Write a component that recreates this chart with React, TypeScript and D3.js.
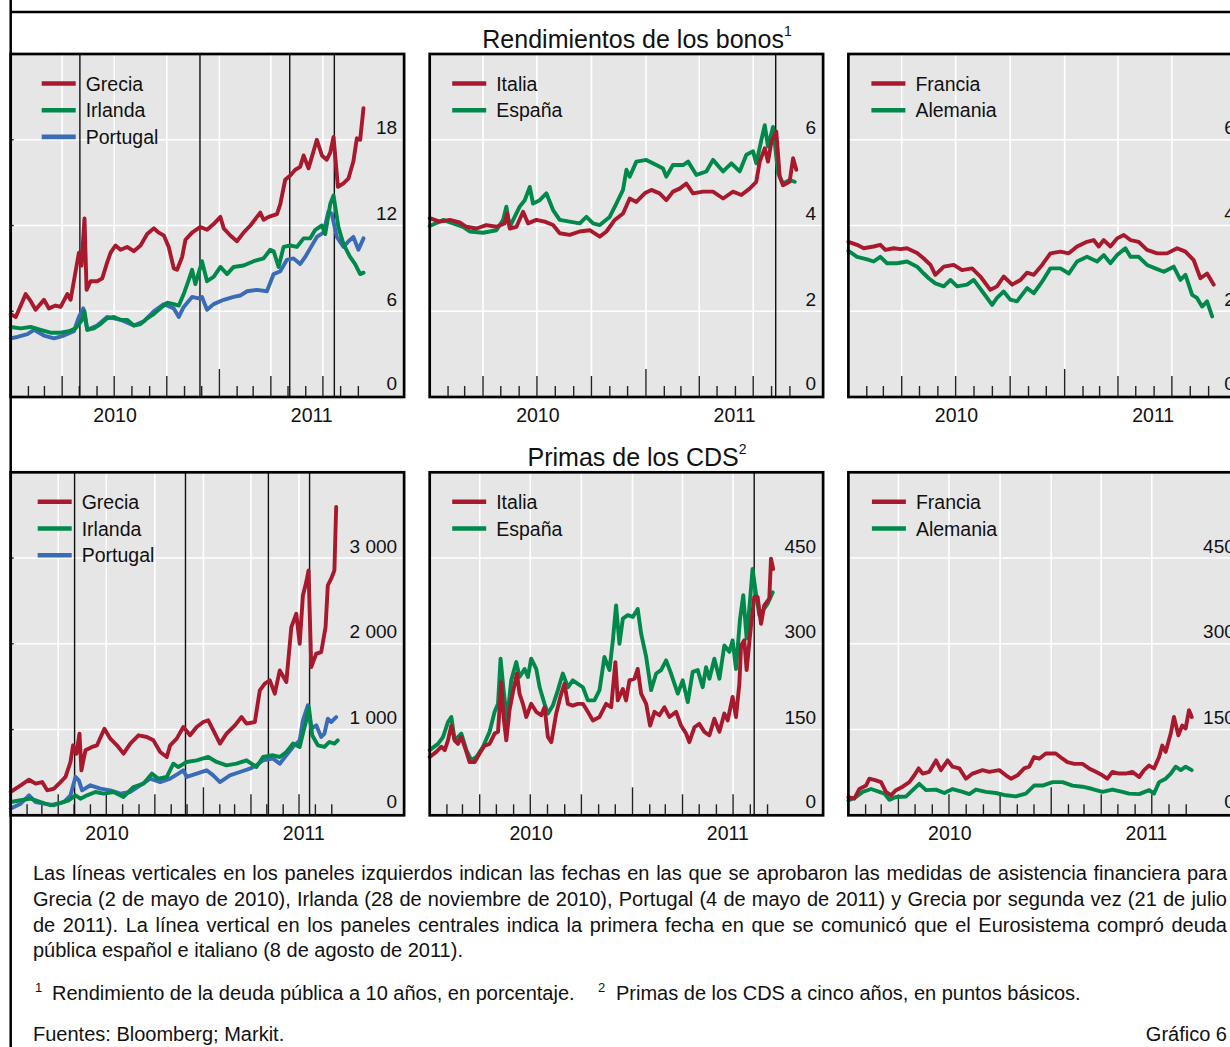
import React, { useEffect, useRef } from "react";
import * as d3 from "d3";

// every point is [months since 1 Jan 2010, value]
type Pt = [number, number];

// --- 10-year government bond yields, % ---
const grecia10y: Pt[] = [[0,5.8],[0.29,5.6],[0.86,7.2],[1.15,6.7],[1.43,6.1],[1.91,6.8],[2.2,6.2],[2.58,6.4],[2.87,6.3],[3.25,7.2],[3.44,6.8],[3.73,8.8],[3.92,10.1],[4.07,9.2],[4.24,12.5],[4.36,7.5],[4.59,8.1],[4.97,8.1],[5.26,8.3],[5.54,9.4],[5.74,10.1],[6.02,10.6],[6.31,10.3],[6.69,10.5],[7.07,10.2],[7.46,10.6],[7.84,11.4],[8.22,11.8],[8.51,11.5],[8.8,11.3],[9.08,10.5],[9.37,9.0],[9.56,8.9],[9.85,9.8],[10.04,11.0],[10.42,11.5],[10.9,11.9],[11.28,11.7],[11.66,12.1],[12.05,12.6],[12.24,11.8],[12.62,11.3],[13.0,10.9],[13.38,11.5],[13.77,12.0],[14.15,12.6],[14.34,12.9],[14.53,12.4],[14.82,12.6],[15.3,12.8],[15.49,13.5],[15.77,15.2],[16.06,15.5],[16.35,15.9],[16.63,16.1],[16.83,16.9],[17.11,16.0],[17.4,17.2],[17.59,18.0],[17.88,16.9],[18.16,16.6],[18.36,17.1],[18.55,18.2],[18.8,14.7],[19.12,14.95],[19.41,15.3],[19.69,16.5],[19.89,18.1],[20.08,18.0],[20.27,20.2]];
const irlanda10y: Pt[] = [[0,4.9],[0.57,4.8],[1.15,4.9],[1.72,4.7],[2.29,4.5],[2.87,4.5],[3.35,4.6],[3.73,4.8],[3.92,5.1],[4.11,5.4],[4.24,6.0],[4.4,4.7],[4.78,4.8],[5.16,5.1],[5.54,5.5],[5.93,5.6],[6.31,5.4],[6.69,5.4],[7.07,5.0],[7.46,5.1],[7.84,5.5],[8.22,5.8],[8.6,6.2],[8.99,6.6],[9.37,6.5],[9.66,6.4],[9.94,7.2],[10.23,8.2],[10.42,8.9],[10.61,7.9],[10.9,9.1],[10.99,9.5],[11.28,8.1],[11.66,8.4],[12.05,9.1],[12.43,8.6],[12.81,9.1],[13.38,9.2],[13.96,9.5],[14.53,9.7],[14.91,10.3],[15.11,10.2],[15.39,9.1],[15.68,10.5],[16.06,10.6],[16.44,10.5],[16.83,11.1],[17.21,11.1],[17.5,11.7],[17.88,12.0],[18.07,11.4],[18.36,13.5],[18.55,14.1],[18.83,11.9],[19.12,10.7],[19.5,9.8],[19.79,9.3],[20.08,8.6],[20.27,8.7]];
const portugal10y: Pt[] = [[0,4.1],[0.38,4.2],[0.96,4.4],[1.34,4.7],[1.91,4.3],[2.49,4.1],[3.06,4.3],[3.63,4.6],[3.92,5.6],[4.17,6.2],[4.4,4.7],[4.97,5.0],[5.54,5.6],[6.31,5.4],[7.07,5.0],[7.65,5.3],[8.22,6.0],[8.8,6.5],[9.37,6.2],[9.66,5.6],[9.94,6.3],[10.42,7.0],[10.8,6.9],[10.99,7.0],[11.28,6.1],[11.66,6.5],[12.24,6.8],[12.81,7.0],[13.19,7.1],[13.58,7.4],[14.15,7.5],[14.72,7.4],[15.11,8.6],[15.49,8.8],[15.87,9.6],[16.25,9.7],[16.63,9.3],[16.92,9.8],[17.21,10.4],[17.59,11.2],[17.97,11.5],[18.26,13.0],[18.45,12.8],[18.74,11.2],[19.12,10.5],[19.41,10.9],[19.69,11.2],[19.98,10.3],[20.27,11.1]];
const italia10y: Pt[] = [[0,4.17],[0.55,4.09],[1.11,4.13],[1.66,4.07],[2.03,3.97],[2.59,3.93],[3.14,4.01],[3.7,3.97],[4.16,4.05],[4.29,4.28],[4.44,3.93],[4.81,3.97],[5.18,4.32],[5.45,4.05],[5.91,4.13],[6.38,4.09],[6.84,4.01],[7.21,3.82],[7.76,3.78],[8.32,3.86],[8.87,3.89],[9.43,3.74],[9.8,3.86],[10.26,4.13],[10.72,4.28],[11.09,4.63],[11.46,4.55],[11.92,4.75],[12.29,4.83],[12.75,4.75],[13.12,4.59],[13.49,4.79],[13.86,4.86],[14.23,4.98],[14.6,4.75],[15.16,4.79],[15.71,4.79],[16.27,4.63],[16.82,4.79],[17.28,4.71],[17.74,4.86],[18.11,5.02],[18.3,5.49],[18.58,5.8],[18.76,5.49],[18.95,5.95],[19.22,6.19],[19.41,5.14],[19.59,4.94],[19.96,5.02],[20.15,5.57],[20.33,5.3]];
const espana10y: Pt[] = [[0,3.99],[0.74,4.13],[1.29,4.05],[1.85,3.97],[2.22,3.86],[2.96,3.83],[3.7,3.89],[4.07,4.13],[4.25,4.44],[4.44,3.97],[4.99,4.44],[5.27,4.59],[5.55,4.9],[5.73,4.51],[6.1,4.59],[6.47,4.75],[6.84,4.36],[7.21,4.13],[7.76,4.09],[8.32,4.05],[8.69,4.2],[9.06,4.05],[9.43,4.01],[9.98,4.2],[10.35,4.51],[10.72,4.83],[10.91,5.3],[11.09,5.14],[11.46,5.49],[12.01,5.53],[12.57,5.41],[12.94,5.33],[13.12,5.14],[13.49,5.41],[14.05,5.41],[14.33,5.49],[14.79,5.18],[15.34,5.26],[15.71,5.53],[16.27,5.26],[16.73,5.45],[17.19,5.26],[17.56,5.65],[17.93,5.73],[18.11,5.45],[18.39,5.99],[18.58,6.34],[18.76,5.84],[19.04,6.3],[19.32,5.22],[19.59,4.98],[19.96,5.06],[20.24,5.02]];
const francia10y: Pt[] = [[0,3.62],[0.48,3.55],[0.85,3.47],[1.4,3.51],[1.77,3.55],[2.05,3.43],[2.51,3.47],[2.88,3.45],[3.25,3.47],[3.81,3.36],[4.18,3.23],[4.55,3.08],[4.82,2.85],[5.29,3.04],[5.84,3.08],[6.3,2.96],[6.86,3.0],[7.32,2.81],[7.87,2.5],[8.24,2.58],[8.61,2.81],[9.08,2.62],[9.54,2.73],[9.91,2.9],[10.28,2.85],[10.74,3.08],[11.2,3.35],[11.76,3.39],[12.22,3.35],[12.68,3.51],[13.23,3.62],[13.6,3.66],[13.88,3.51],[14.16,3.66],[14.53,3.51],[14.9,3.7],[15.27,3.78],[15.64,3.66],[16.1,3.62],[16.56,3.43],[17.12,3.35],[17.67,3.35],[18.23,3.47],[18.69,3.39],[19.15,3.19],[19.52,2.77],[19.89,2.88],[20.26,2.62]];
const alemania10y: Pt[] = [[0,3.41],[0.48,3.27],[1.04,3.21],[1.4,3.16],[1.77,3.27],[2.14,3.12],[2.7,3.12],[3.25,3.16],[3.81,3.04],[4.18,2.88],[4.45,2.77],[4.82,2.65],[5.29,2.58],[5.66,2.73],[6.03,2.58],[6.58,2.62],[6.95,2.73],[7.5,2.42],[7.97,2.15],[8.24,2.31],[8.61,2.46],[8.98,2.27],[9.35,2.23],[9.91,2.54],[10.28,2.42],[10.74,2.69],[11.2,3.0],[11.76,3.0],[12.22,2.88],[12.68,3.16],[13.23,3.27],[13.79,3.16],[14.16,3.31],[14.53,3.12],[14.9,3.31],[15.36,3.47],[15.64,3.27],[16.1,3.27],[16.56,3.08],[17.02,3.0],[17.49,2.92],[18.04,3.04],[18.41,2.73],[18.69,2.85],[19.06,2.38],[19.33,2.31],[19.61,2.11],[19.89,2.23],[20.17,1.88]];

// --- 5-year CDS premia, basis points ---
const greciaCds: Pt[] = [[0,272],[0.62,350],[1.14,415],[1.55,369],[1.96,388],[2.27,291],[2.69,311],[3.1,388],[3.41,447],[3.72,622],[3.88,816],[4.09,719],[4.28,952],[4.4,525],[4.65,758],[5.06,797],[5.37,816],[5.83,1010],[6.2,894],[6.61,816],[7.02,719],[7.44,836],[7.95,933],[8.47,913],[8.88,874],[9.3,738],[9.71,680],[9.92,816],[10.33,894],[10.74,1030],[11.16,933],[11.57,1030],[11.98,1088],[12.29,1108],[12.71,952],[13.02,836],[13.43,952],[13.95,1049],[14.36,1146],[14.67,1069],[15.19,1088],[15.5,1457],[15.81,1535],[16.12,1574],[16.43,1419],[16.74,1690],[17.15,1554],[17.46,2195],[17.77,2350],[17.98,2000],[18.18,2564],[18.39,2720],[18.53,2856],[18.7,1729],[19.01,1885],[19.32,1904],[19.59,2195],[19.73,2681],[19.94,2759],[20.14,2856],[20.25,3596]];
const irlandaCds: Pt[] = [[0,155],[0.62,175],[1.24,194],[1.86,155],[2.48,117],[3.1,144],[3.62,175],[4.03,233],[4.34,194],[4.75,233],[5.27,272],[5.79,252],[6.4,272],[7.02,214],[7.64,330],[8.26,369],[8.78,486],[9.19,427],[9.71,447],[10.12,602],[10.43,563],[10.95,622],[11.57,641],[12.29,680],[12.81,622],[13.43,583],[14.05,602],[14.67,641],[15.29,563],[15.7,680],[16.32,700],[16.74,680],[17.15,738],[17.56,836],[17.98,797],[18.18,952],[18.39,1108],[18.55,1263],[18.76,933],[19.11,816],[19.52,797],[19.83,855],[20.14,836],[20.35,874]];
const portugalCds: Pt[] = [[0,78],[0.62,136],[1.14,233],[1.55,155],[2.07,136],[2.69,117],[3.31,155],[3.72,233],[4.03,447],[4.24,408],[4.44,291],[4.96,350],[5.58,311],[6.2,291],[6.82,252],[7.44,272],[8.06,350],[8.68,427],[9.3,388],[9.92,427],[10.43,486],[10.74,525],[10.95,447],[11.57,486],[12.19,525],[12.6,466],[13.02,388],[13.64,466],[14.26,505],[14.88,544],[15.29,583],[15.7,641],[16.32,661],[16.74,602],[17.56,797],[17.98,874],[18.18,1108],[18.49,1283],[18.7,1010],[19.01,1049],[19.32,913],[19.52,952],[19.73,1127],[19.94,1088],[20.25,1146]];
const italiaCds: Pt[] = [[0,102],[0.39,111],[0.69,120],[0.89,114],[1.08,131],[1.28,157],[1.48,131],[1.67,125],[1.87,137],[2.17,111],[2.36,93],[2.66,93],[2.95,108],[3.25,122],[3.54,125],[3.84,143],[4.04,146],[4.23,233],[4.37,172],[4.53,131],[4.72,184],[4.92,215],[5.16,248],[5.31,213],[5.51,195],[5.71,172],[6.0,195],[6.3,181],[6.59,175],[6.79,189],[6.99,137],[7.19,128],[7.48,178],[7.78,213],[7.97,230],[8.17,195],[8.46,192],[8.76,195],[9.06,195],[9.35,181],[9.65,166],[10.04,172],[10.43,195],[10.73,189],[10.98,268],[11.12,201],[11.42,221],[11.61,201],[11.81,236],[12.11,239],[12.3,256],[12.5,213],[12.8,195],[13.03,157],[13.29,181],[13.58,175],[13.88,189],[14.17,172],[14.57,181],[14.86,157],[15.16,143],[15.35,128],[15.65,154],[15.94,160],[16.24,146],[16.54,140],[16.83,169],[17.13,146],[17.42,178],[17.62,166],[17.91,207],[18.11,172],[18.31,230],[18.41,297],[18.6,306],[18.74,254],[18.9,303],[19.0,332],[19.19,382],[19.39,382],[19.59,335],[19.78,367],[20.08,379],[20.18,449],[20.31,431]];
const espanaCds: Pt[] = [[0,114],[0.49,125],[0.79,137],[1.08,163],[1.28,172],[1.48,131],[1.87,143],[2.17,114],[2.46,96],[2.76,102],[3.15,120],[3.54,146],[3.84,181],[4.04,195],[4.19,274],[4.37,219],[4.57,166],[4.82,236],[5.12,268],[5.31,242],[5.61,256],[5.81,242],[6.0,274],[6.3,256],[6.5,224],[6.79,195],[6.99,178],[7.28,192],[7.58,219],[7.87,248],[8.17,224],[8.46,236],[8.76,230],[9.06,224],[9.35,201],[9.74,201],[10.04,219],[10.33,277],[10.63,254],[10.83,306],[11.02,367],[11.22,300],[11.42,344],[11.71,350],[12.01,347],[12.3,361],[12.5,318],[12.8,277],[13.09,219],[13.39,248],[13.68,254],[13.98,271],[14.27,248],[14.67,213],[14.96,236],[15.26,198],[15.55,251],[15.85,254],[16.14,224],[16.34,259],[16.54,239],[16.83,274],[17.13,239],[17.42,297],[17.72,286],[17.91,306],[18.11,256],[18.35,344],[18.54,385],[18.74,309],[18.94,376],[19.09,431],[19.29,388],[19.49,350],[19.69,358],[19.98,370],[20.28,390]];
const franciaCds: Pt[] = [[0,32],[0.35,29],[0.65,46],[1.04,52],[1.24,64],[1.63,61],[1.93,58],[2.22,41],[2.52,35],[2.81,44],[3.21,50],[3.6,58],[3.9,70],[4.15,82],[4.39,73],[4.78,76],[5.18,96],[5.47,79],[5.87,96],[6.16,85],[6.56,82],[6.95,64],[7.34,73],[7.93,79],[8.33,76],[8.92,79],[9.31,70],[9.61,64],[10.0,70],[10.39,82],[10.69,85],[10.98,102],[11.28,99],[11.67,108],[12.26,108],[12.66,99],[12.95,93],[13.35,90],[13.84,90],[14.23,82],[14.63,76],[15.02,70],[15.31,64],[15.61,76],[16.0,73],[16.4,73],[16.79,76],[17.19,67],[17.48,79],[17.78,87],[18.07,82],[18.37,102],[18.56,122],[18.76,111],[19.06,143],[19.25,172],[19.51,140],[19.74,157],[19.94,152],[20.14,184],[20.3,172]];
const alemaniaCds: Pt[] = [[0,26],[0.45,32],[0.85,41],[1.34,46],[1.83,41],[2.13,38],[2.42,27],[2.81,32],[3.41,33],[3.8,44],[4.19,55],[4.59,44],[5.18,45],[5.67,39],[6.16,46],[6.75,41],[7.15,37],[7.54,45],[8.13,41],[8.72,39],[9.31,35],[9.9,33],[10.49,38],[10.98,52],[11.48,52],[12.07,58],[12.66,58],[13.25,52],[13.84,50],[14.43,46],[15.02,41],[15.61,45],[16.2,41],[16.59,38],[17.19,37],[17.78,44],[18.07,38],[18.37,58],[18.76,64],[19.06,73],[19.35,85],[19.65,79],[19.94,85],[20.3,79]];

// vertical event lines
const eventosIzq = ["2010-05-02", "2010-11-28", "2011-05-04", "2011-07-21"];
const eventosCentro = ["2011-08-08"];

const ticksBonos = [0, 6, 12, 18];
const ticksBonos2 = [0, 2, 4, 6];
const ticksCdsIzq = [0, 1000, 2000, 3000];
const ticksCds2 = [0, 150, 300, 450];

const titulos = ["Rendimientos de los bonos", "Primas de los CDS"];

const notaLineas = [
  "Las líneas verticales en los paneles izquierdos indican las fechas en las que se aprobaron las medidas de asistencia financiera para",
  "Grecia (2 de mayo de 2010), Irlanda (28 de noviembre de 2010), Portugal (4 de mayo de 2011) y Grecia por segunda vez (21 de julio",
  "de 2011). La línea vertical en los paneles centrales indica la primera fecha en que se comunicó que el Eurosistema compró deuda",
  "pública español e italiano (8 de agosto de 2011).",
];
const nota1 = "Rendimiento de la deuda pública a 10 años, en porcentaje.";
const nota2 = "Primas de los CDS a cinco años, en puntos básicos.";
const fuentes = "Fuentes: Bloomberg; Markit.";
const grafico = "Gráfico 6";

const RED = "#a8192e";
const GREEN = "#00894b";
const BLUE = "#3a6bb5";
const FONT = "'Liberation Sans', Arial, Helvetica, sans-serif";

const T0 = new Date(2010, 0, 1);
const toDate = (m: number) => new Date(T0.getTime() + m * 30.4375 * 864e5);
const parse = d3.timeParse("%Y-%m-%d");
const fmtMiles = (v: number) => d3.format(",")(v).replace(/,/g, " ");

const COL_X = [10.7, 429.7, 848.4];
const ROW_Y = [54, 472.3];
const PW = 393.4;
const PH = 343;

type Serie = { name: string; data: Pt[]; color: string };
type Panel = {
  row: number; col: number; yMax: number; yTicks: number[];
  end: string; events: string[]; legendDx: number; series: Serie[];
  fmt: (v: number) => string;
};

const panels: Panel[] = [
  { row: 0, col: 0, yMax: 24, yTicks: ticksBonos, end: "2011-11-20", events: eventosIzq, legendDx: 31, fmt: String,
    series: [{ name: "Grecia", data: grecia10y, color: RED }, { name: "Irlanda", data: irlanda10y, color: GREEN }, { name: "Portugal", data: portugal10y, color: BLUE }] },
  { row: 0, col: 1, yMax: 8, yTicks: ticksBonos2, end: "2011-10-27", events: eventosCentro, legendDx: 22.5, fmt: String,
    series: [{ name: "Italia", data: italia10y, color: RED }, { name: "España", data: espana10y, color: GREEN }] },
  { row: 0, col: 2, yMax: 8, yTicks: ticksBonos2, end: "2011-10-27", events: [], legendDx: 23, fmt: String,
    series: [{ name: "Francia", data: francia10y, color: RED }, { name: "Alemania", data: alemania10y, color: GREEN }] },
  { row: 1, col: 0, yMax: 4000, yTicks: ticksCdsIzq, end: "2012-01-16", events: eventosIzq, legendDx: 27, fmt: fmtMiles,
    series: [{ name: "Grecia", data: greciaCds, color: RED }, { name: "Irlanda", data: irlandaCds, color: GREEN }, { name: "Portugal", data: portugalCds, color: BLUE }] },
  { row: 1, col: 1, yMax: 600, yTicks: ticksCds2, end: "2011-12-10", events: eventosCentro, legendDx: 22.5, fmt: String,
    series: [{ name: "Italia", data: italiaCds, color: RED }, { name: "España", data: espanaCds, color: GREEN }] },
  { row: 1, col: 2, yMax: 600, yTicks: ticksCds2, end: "2011-12-10", events: [], legendDx: 23.5, fmt: String,
    series: [{ name: "Francia", data: franciaCds, color: RED }, { name: "Alemania", data: alemaniaCds, color: GREEN }] },
];

function drawPanel(svg: d3.Selection<SVGSVGElement, unknown, null, undefined>, p: Panel) {
  const x0 = COL_X[p.col];
  const y0 = ROW_Y[p.row];
  const x = d3.scaleTime().domain([T0, parse(p.end) as Date]).range([x0, x0 + PW]);
  const y = d3.scaleLinear().domain([0, p.yMax]).range([y0 + PH, y0]);
  const g = svg.append("g");

  g.append("rect").attr("x", x0).attr("y", y0).attr("width", PW).attr("height", PH).attr("fill", "#e6e6e6");

  // monthly ticks Feb 2010 .. Sep 2011, quarters longer, new year longest
  const months = d3.timeMonth.range(new Date(2010, 1, 1), new Date(2011, 8, 2));
  const quarters = months.filter(d => d.getMonth() % 3 === 0);

  g.append("g").selectAll("line").data(quarters).join("line")
    .attr("x1", d => x(d)).attr("x2", d => x(d))
    .attr("y1", y0).attr("y2", y0 + PH)
    .attr("stroke", "#fff").attr("stroke-width", 1.6);
  g.append("g").selectAll("line").data(p.yTicks.filter(v => v > 0)).join("line")
    .attr("x1", x0).attr("x2", x0 + PW)
    .attr("y1", d => y(d)).attr("y2", d => y(d))
    .attr("stroke", "#fff").attr("stroke-width", 1.6);

  g.append("g").selectAll("line").data(months).join("line")
    .attr("x1", d => x(d)).attr("x2", d => x(d))
    .attr("y1", y0 + PH)
    .attr("y2", d => y0 + PH - (d.getMonth() === 0 ? 28 : d.getMonth() % 3 === 0 ? 21 : 11))
    .attr("stroke", "#222").attr("stroke-width", 1.4);

  if (p.col === 0) {
    g.append("g").selectAll("line").data(p.yTicks.filter(v => v > 0)).join("line")
      .attr("x1", x0).attr("x2", x0 + 3)
      .attr("y1", d => y(d)).attr("y2", d => y(d))
      .attr("stroke", "#222").attr("stroke-width", 1.4);
  }

  g.append("g").selectAll("line").data(p.events.map(s => parse(s) as Date)).join("line")
    .attr("x1", d => x(d)).attr("x2", d => x(d))
    .attr("y1", y0).attr("y2", y0 + PH)
    .attr("stroke", "#111").attr("stroke-width", 1.4);

  const line = d3.line<Pt>().x(d => x(toDate(d[0]))).y(d => y(d[1]));
  g.append("g").selectAll("path").data(p.series.slice().reverse()).join("path")
    .attr("d", d => line(d.data))
    .attr("fill", "none")
    .attr("stroke", d => d.color)
    .attr("stroke-width", 3.9)
    .attr("stroke-linejoin", "round")
    .attr("stroke-linecap", "round");

  g.append("rect").attr("x", x0).attr("y", y0).attr("width", PW).attr("height", PH)
    .attr("fill", "none").attr("stroke", "#000").attr("stroke-width", 2.7);

  // y labels, inside on the right
  g.append("g").selectAll("text").data(p.yTicks).join("text")
    .attr("x", x0 + PW - 7)
    .attr("y", d => y(d) - (d === 0 ? 7 : 5.5))
    .attr("text-anchor", "end")
    .attr("font-size", 19)
    .attr("fill", "#111")
    .text(d => p.fmt(d));

  // legend
  const lg = g.append("g").attr("transform", `translate(${x0 + p.legendDx},${y0 + 29.5})`);
  p.series.forEach((s, i) => {
    lg.append("line").attr("x1", 0).attr("x2", 34).attr("y1", i * 26.7).attr("y2", i * 26.7)
      .attr("stroke", s.color).attr("stroke-width", 4.6);
    lg.append("text").attr("x", 44).attr("y", i * 26.7 + 7.2)
      .attr("font-size", 19.5).attr("fill", "#111").text(s.name);
  });

  // year labels
  const jan11 = new Date(2011, 0, 1);
  const yl = y0 + PH + 25;
  g.append("text").attr("x", (x(T0) + x(jan11)) / 2).attr("y", yl)
    .attr("text-anchor", "middle").attr("font-size", 19.5).attr("fill", "#111").text("2010");
  g.append("text").attr("x", (x(jan11) + x0 + PW) / 2).attr("y", yl)
    .attr("text-anchor", "middle").attr("font-size", 19.5).attr("fill", "#111").text("2011");
}

export default function App() {
  const ref = useRef<SVGSVGElement>(null);

  useEffect(() => {
    const svg = d3.select(ref.current as SVGSVGElement);
    svg.selectAll("*").remove();
    svg.attr("font-family", FONT);

    svg.append("rect").attr("width", 1230).attr("height", 1047).attr("fill", "#fff");

    // outer frame
    svg.append("line").attr("x1", 10.7).attr("x2", 10.7).attr("y1", 0).attr("y2", 1047)
      .attr("stroke", "#000").attr("stroke-width", 2.5);
    svg.append("line").attr("x1", 10.7).attr("x2", 1230).attr("y1", 12).attr("y2", 12)
      .attr("stroke", "#000").attr("stroke-width", 2.5);

    panels.forEach(p => drawPanel(svg, p));

    // titles with superscripts
    titulos.forEach((t, i) => {
      const tx = svg.append("text").attr("x", 637).attr("y", i === 0 ? 48.3 : 466)
        .attr("text-anchor", "middle").attr("font-size", 25).attr("fill", "#111");
      tx.append("tspan").text(t);
      tx.append("tspan").attr("dy", -12).attr("font-size", 14).text(String(i + 1));
    });

    // notes, first lines justified to the full width
    const notes = svg.append("g").attr("font-size", 20).attr("fill", "#111");
    const baselines = [880, 906, 931.5, 957];
    notaLineas.forEach((txt, i) => {
      const t = notes.append("text").attr("x", 33).attr("y", baselines[i]).text(txt);
      if (i < notaLineas.length - 1) {
        const natural = (t.node() as SVGTextElement).getComputedTextLength();
        const spaces = txt.split(" ").length - 1;
        t.attr("word-spacing", (1227 - 33 - natural) / spaces);
      }
    });
    notes.append("text").attr("x", 35).attr("y", 992).attr("font-size", 13).text("1");
    notes.append("text").attr("x", 52).attr("y", 1000).text(nota1);
    notes.append("text").attr("x", 598).attr("y", 992).attr("font-size", 13).text("2");
    notes.append("text").attr("x", 616).attr("y", 1000).text(nota2);
    notes.append("text").attr("x", 33).attr("y", 1041).text(fuentes);
    notes.append("text").attr("x", 1227).attr("y", 1041).attr("text-anchor", "end").text(grafico);
  }, []);

  return (
    <div style={{ position: "absolute", left: 0, top: 0, width: 1230, height: 1047, overflow: "hidden" }}>
      <svg ref={ref} width={1230} height={1047} />
    </div>
  );
}
